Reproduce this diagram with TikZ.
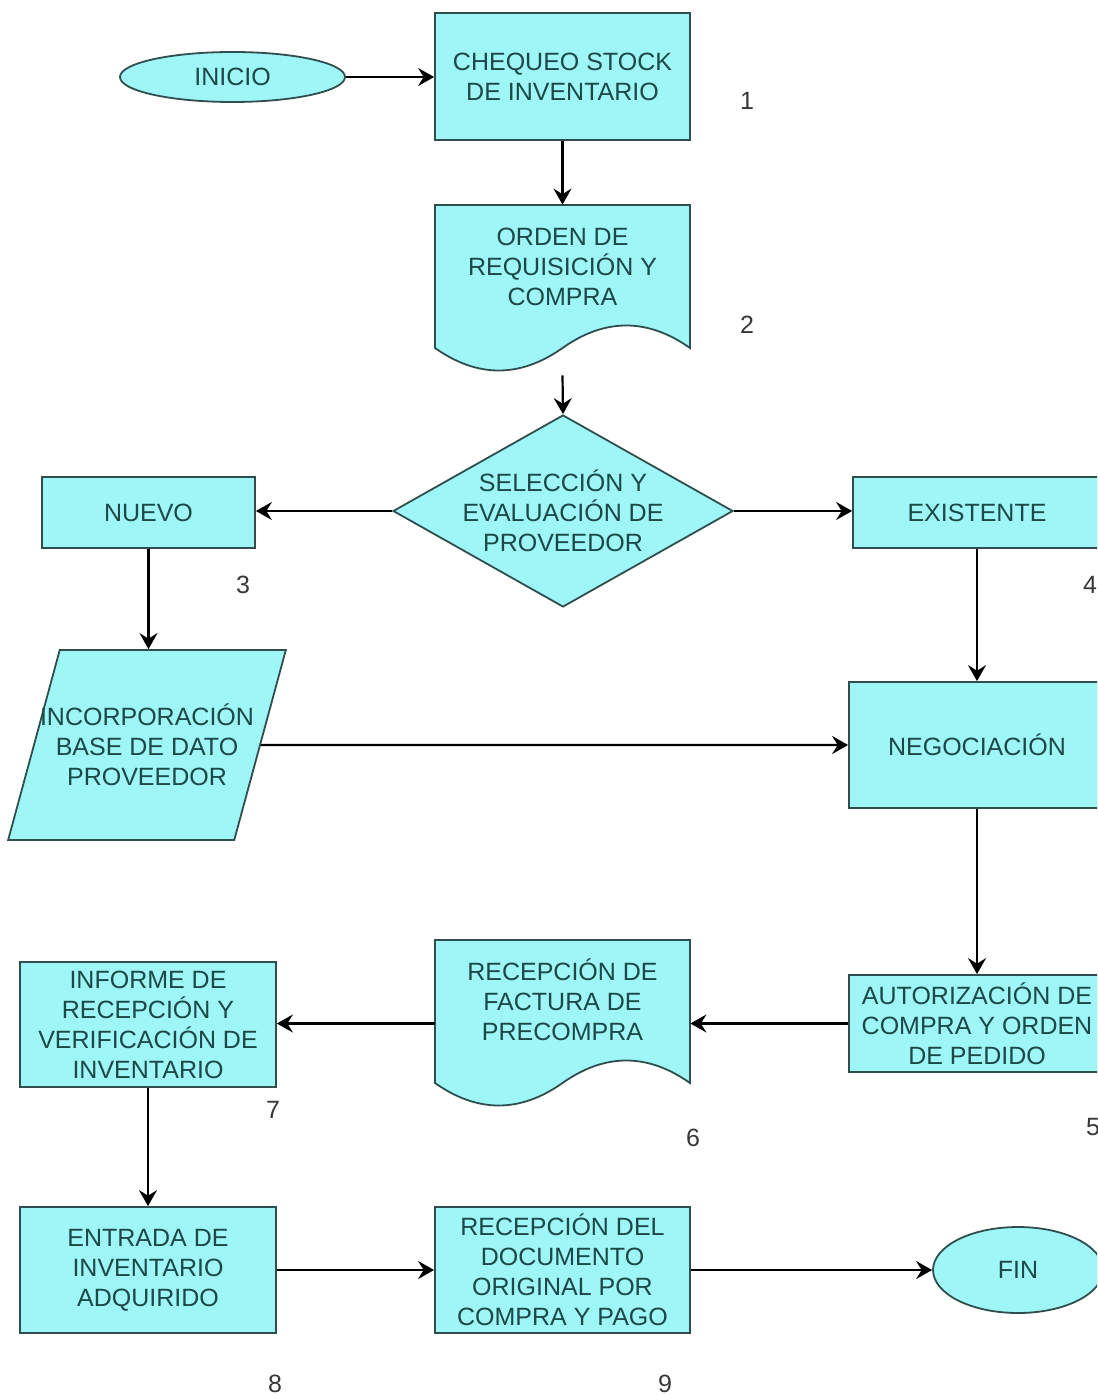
\documentclass[tikz,border=0pt]{standalone}
\usepackage{fontspec}
\setmainfont{Liberation Sans}
\usetikzlibrary{shapes.geometric,arrows.meta}

\definecolor{boxfill}{RGB}{158,246,247}
\definecolor{boxline}{RGB}{48,78,78}
\definecolor{boxtext}{RGB}{28,72,72}
\definecolor{numtext}{RGB}{55,55,55}

\tikzset{
  shapeline/.style={draw=boxline, line width=0.9pt, fill=boxfill},
  procbox/.style={shapeline, rectangle, inner sep=0pt, align=center,
    text=boxtext, font=\fontsize{12.5}{15}\selectfont},
  terminal/.style={shapeline, ellipse, inner sep=0pt,
    text=boxtext, font=\fontsize{12.5}{15}\selectfont},
  decision/.style={shapeline, diamond, inner sep=0pt},
  ioshape/.style={shapeline, trapezium, trapezium left angle=73.9,
    trapezium right angle=106.1, trapezium stretches=true, inner sep=1pt},
  ghost/.style={rectangle, inner sep=0pt},
  label/.style={align=center, text=boxtext, inner sep=0pt,
    font=\fontsize{12.5}{15}\selectfont},
  stepnum/.style={text=numtext, inner sep=0pt, font=\fontsize{12.5}{15}\selectfont},
  flow/.style={draw=black, line width=1.1pt,
    -{Stealth[length=8pt, width=9pt, inset=2.8pt]}},
}

% document symbol (wavy bottom), 255 x 168 units, given its top-left corner
\newcommand\wavedoc[1]{%
  \begin{scope}[shift={#1}]
    \path[shapeline] (0,0) -- (255,0) -- (255,143)
      .. controls (212.5,113) and (170,113) .. (127.5,143)
      .. controls (85,173) and (42.5,173) .. (0,143) -- cycle;
  \end{scope}}

\begin{document}
\begin{tikzpicture}[x=0.5pt, y=-0.5pt]
\useasboundingbox (0,0) rectangle (1097,1395);
\clip (0,0) rectangle (1097,1395);

% start / end
\node[terminal, minimum width=112.5pt, minimum height=25pt] (inicio) at (232.5,77) {INICIO};
\node[terminal, minimum width=85pt, minimum height=43pt] (fin) at (1018,1270) {FIN};

% process boxes
\node[procbox, minimum width=127.5pt, minimum height=63.5pt] (cheq) at (562.5,76.5)
  {CHEQUEO STOCK\\DE INVENTARIO};
\node[procbox, minimum width=106.5pt, minimum height=35.5pt] (nuevo) at (148.5,512.5) {NUEVO};
\node[procbox, minimum width=124pt, minimum height=35.5pt] (exist) at (977,512.5) {EXISTENTE};
\node[procbox, minimum width=128pt, minimum height=63pt] (nego) at (977,745) {NEGOCIACIÓN};
\node[procbox, minimum width=128pt, minimum height=48.5pt] (autor) at (977,1023.5)
  {AUTORIZACIÓN DE\\COMPRA Y ORDEN\\DE PEDIDO};
\node[procbox, minimum width=128pt, minimum height=62.5pt] (inform) at (148,1024.5)
  {INFORME DE\\RECEPCIÓN Y\\VERIFICACIÓN DE\\INVENTARIO};
\node[procbox, minimum width=128pt, minimum height=63pt] (entrada) at (148,1270)
  {ENTRADA DE\\INVENTARIO\\ADQUIRIDO};
\node[procbox, minimum width=127.5pt, minimum height=63pt] (recdoc) at (562.5,1270)
  {RECEPCIÓN DEL\\DOCUMENTO\\ORIGINAL POR\\COMPRA Y PAGO};

% documents
\wavedoc{(435,205)}
\node[ghost, minimum width=127.5pt, minimum height=84pt] (orden) at (562.5,289) {};
\node[label] (ordentxt) at (562.5,267) {ORDEN DE\\REQUISICIÓN Y\\COMPRA};

\wavedoc{(435,940)}
\node[ghost, minimum width=127.5pt, minimum height=83.5pt] (factura) at (562.5,1023.5) {};
\node[label] (facturatxt) at (562.5,1000) {RECEPCIÓN DE\\FACTURA DE\\PRECOMPRA};

% decision
\node[decision, minimum width=170pt, minimum height=96pt] (sel) at (563,511) {};
\node[label] (seltxt) at (563,511) {SELECCIÓN Y\\EVALUACIÓN DE\\PROVEEDOR};

% data input
\node[ioshape, minimum width=139pt, minimum height=95pt] (incorp) at (147,745) {\phantom{X}};
\node[label] (incorptxt) at (147,745) {INCORPORACIÓN\\BASE DE DATO\\PROVEEDOR};

% step numbers
\node[stepnum] (n1) at (747,101) {1};
\node[stepnum] (n2) at (747,325) {2};
\node[stepnum] (n3) at (243,585) {3};
\node[stepnum] (n4) at (1090,585) {4};
\node[stepnum] (n5) at (1093,1127) {5};
\node[stepnum] (n6) at (693,1138) {6};
\node[stepnum] (n7) at (273,1110) {7};
\node[stepnum] (n8) at (275,1384) {8};
\node[stepnum] (n9) at (665,1384) {9};

% connectors
\draw[flow] (inicio.east) -- (inicio.east -| cheq.west);
\draw[flow] (cheq.south) -- (orden.north);
\draw[flow] ([yshift=-1pt]orden.south) -- (sel.north);
\draw[flow] (sel.west) -- (sel.west -| nuevo.east);
\draw[flow] (sel.east) -- (sel.east -| exist.west);
\draw[flow] (nuevo.south) -- (nuevo.south |- incorp.north);
\draw[flow] (exist.south) -- (nego.north);
\draw[flow] (incorp.east) -- (nego.west);
\draw[flow] (nego.south) -- (autor.north);
\draw[flow] (autor.west) -- (factura.east);
\draw[flow] (factura.west) -- (factura.west -| inform.east);
\draw[flow] (inform.south) -- (entrada.north);
\draw[flow] (entrada.east) -- (recdoc.west);
\draw[flow] (recdoc.east) -- (fin.west);
\end{tikzpicture}
\end{document}
